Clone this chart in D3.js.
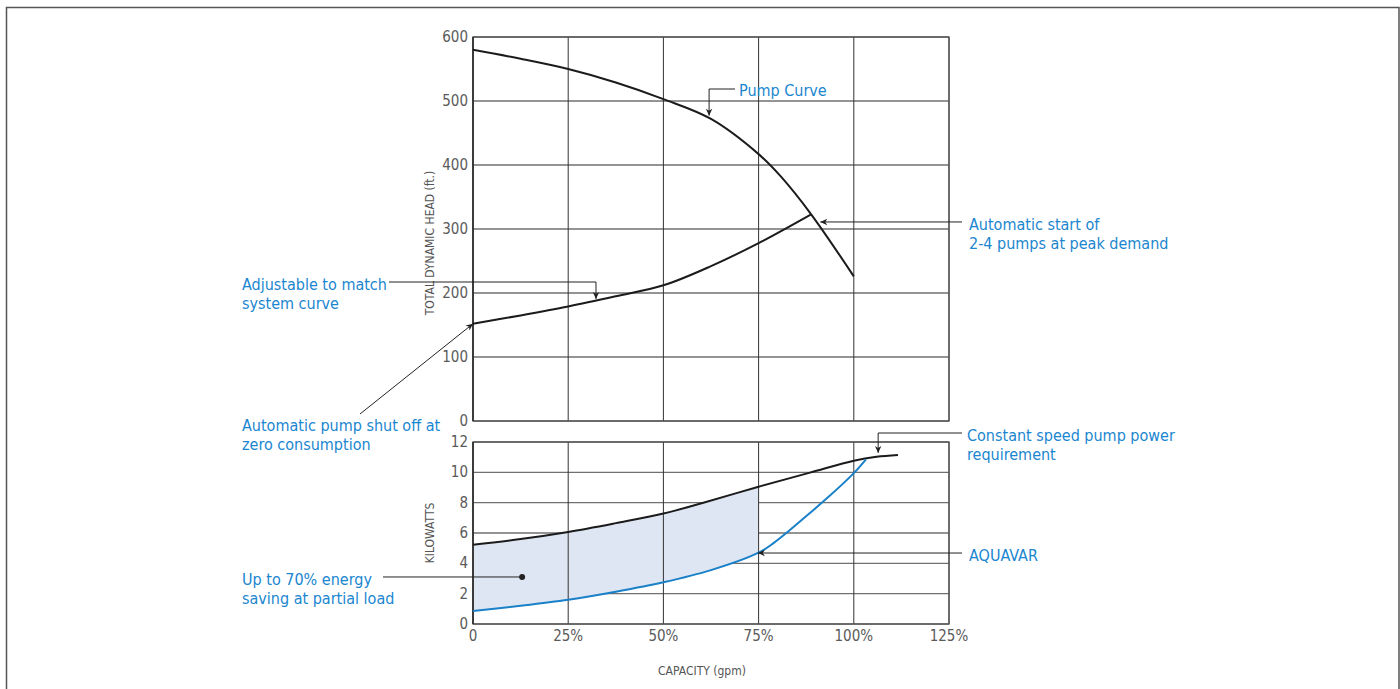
<!DOCTYPE html>
<html>
<meta charset="utf-8">
<title>Pump Curve / AQUAVAR</title>
<style>
  body { margin: 0; background: #fff; }
  svg { display: block; }
  .tick-label { font-family: "Liberation Sans Narrow", "DejaVu Sans Condensed", "DejaVu Sans", sans-serif; font-stretch: condensed; font-size: 15px; fill: #5a5a5a; }
  .axis-title { font-family: "Liberation Sans Narrow", "DejaVu Sans Condensed", "DejaVu Sans", sans-serif; font-stretch: condensed; font-size: 12px; fill: #555; }
  .note { font-family: "Liberation Sans Narrow", "DejaVu Sans Condensed", "DejaVu Sans", sans-serif; font-stretch: condensed; font-size: 16px; fill: #1a86cf; }
  .hgrid { stroke: #707070; stroke-width: 1.4; }
  .vgrid { stroke: #333; stroke-width: 1; }
  .frame { fill: none; stroke: #555; stroke-width: 1.3; }
  .leader { fill: none; stroke: #222; stroke-width: 1; }
</style>
<body>
<script src="https://d3js.org/d3.v7.min.js"></script>
<script>
// ---- data ----
var capTicks = [0, 25, 50, 75, 100, 125];
var capLabels = ["0", "25%", "50%", "75%", "100%", "125%"];
var headTicks = [0, 100, 200, 300, 400, 500, 600];
var kwTicks = [0, 2, 4, 6, 8, 10, 12];

// pump curve (capacity %, head ft)
var pumpCap  = [0, 12.5, 25, 37.5, 50, 62.5, 75, 81, 88.8, 100];
var pumpHead = [580, 566, 550, 529, 503, 472, 417, 381, 323, 226];

// system curve
var sysCap  = [0, 12.5, 25, 37.5, 50, 62.5, 75, 88.8];
var sysHead = [152, 165, 179, 195, 212, 242, 278, 323];

// constant speed pump power (kW)
var constCap = [0, 12.5, 25, 37.5, 50, 60.5, 75, 88.5, 100, 106, 111.6];
var constKw  = [5.23, 5.6, 6.07, 6.65, 7.28, 8.0, 9.05, 9.98, 10.77, 11.03, 11.15];

// AQUAVAR power (kW)
var aquaCap = [0, 12.5, 25, 37.5, 50, 62.5, 75, 79, 83, 87, 93, 100, 103.2];
var aquaKw  = [0.86, 1.2, 1.6, 2.13, 2.75, 3.55, 4.7, 5.35, 6.15, 7.0, 8.3, 9.95, 10.86];

// ---- layout ----
var W = 1400, H = 689;
var svg = d3.select("body").append("svg").attr("width", W).attr("height", H);

var x = d3.scaleLinear().domain([0, 125]).range([473, 949]);
var yHead = d3.scaleLinear().domain([0, 600]).range([421, 37]);
var yKw = d3.scaleLinear().domain([0, 12]).range([624, 442]);

// outer border
svg.append("path").attr("d", "M6.5,700 L6.5,7.5 L1399,7.5 L1399,700")
   .attr("fill", "none").attr("stroke", "#555").attr("stroke-width", 1.5);

svg.append("defs").append("marker")
    .attr("id", "arr")
    .attr("viewBox", "-8 -4 9 8")
    .attr("refX", 0).attr("refY", 0)
    .attr("markerWidth", 9).attr("markerHeight", 8)
    .attr("markerUnits", "userSpaceOnUse")
    .attr("orient", "auto")
  .append("path").attr("d", "M0,0 L-7,-3.2 L-5,0 L-7,3.2 Z").attr("fill", "#222");

svg.select("defs").append("clipPath").attr("id", "clip75")
  .append("rect").attr("x", x(0)).attr("y", yKw(12)).attr("width", x(75) - x(0)).attr("height", yKw(0) - yKw(12));

var curve = d3.curveCatmullRom.alpha(0.5);
function pts(xs, ys) { return xs.map(function(d, i) { return [d, ys[i]]; }); }

// ---- top panel ----
var gTop = svg.append("g");
gTop.selectAll(".hgrid").data(headTicks).enter().append("line")
    .attr("class", "hgrid")
    .attr("x1", x(0)).attr("x2", x(125))
    .attr("y1", function(d) { return yHead(d); }).attr("y2", function(d) { return yHead(d); });
gTop.selectAll(".vgrid").data(capTicks).enter().append("line")
    .attr("class", "vgrid")
    .attr("y1", yHead(0)).attr("y2", yHead(600))
    .attr("x1", function(d) { return x(d); }).attr("x2", function(d) { return x(d); });
gTop.append("rect").attr("class", "frame")
    .attr("x", x(0)).attr("y", yHead(600)).attr("width", x(125) - x(0)).attr("height", yHead(0) - yHead(600));
gTop.append("line").attr("x1", x(0)).attr("x2", x(0)).attr("y1", yHead(0)).attr("y2", yHead(600))
    .attr("stroke", "#222").attr("stroke-width", 1.3);

gTop.selectAll(".ty").data(headTicks).enter().append("text")
    .attr("class", "tick-label")
    .attr("x", 468).attr("y", function(d) { return yHead(d) + 5; })
    .attr("text-anchor", "end")
    .text(function(d) { return d; });

var lineHead = d3.line().x(function(d) { return x(d[0]); }).y(function(d) { return yHead(d[1]); }).curve(curve);
gTop.append("path").attr("d", lineHead(pts(pumpCap, pumpHead)))
    .attr("fill", "none").attr("stroke", "#1b1b1b").attr("stroke-width", 2);
gTop.append("path").attr("d", lineHead(pts(sysCap, sysHead)))
    .attr("fill", "none").attr("stroke", "#1b1b1b").attr("stroke-width", 2);

gTop.append("text").attr("class", "axis-title")
    .attr("transform", "translate(434," + ((yHead(0) + yHead(600)) / 2 + 14) + ") rotate(-90)")
    .attr("text-anchor", "middle")
    .text("TOTAL DYNAMIC HEAD (ft.)");

// ---- bottom panel ----
var gBot = svg.append("g");
gBot.selectAll(".hgrid").data(kwTicks).enter().append("line")
    .attr("class", "hgrid")
    .attr("x1", x(0)).attr("x2", x(125))
    .attr("y1", function(d) { return yKw(d); }).attr("y2", function(d) { return yKw(d); });

var lineKw = d3.line().x(function(d) { return x(d[0]); }).y(function(d) { return yKw(d[1]); }).curve(curve);
var upper = lineKw(pts(constCap, constKw));
var lower = lineKw(pts(aquaCap, aquaKw).reverse());
gBot.append("path")
    .attr("d", upper + "L" + lower.slice(1) + "Z")
    .attr("clip-path", "url(#clip75)")
    .attr("fill", "#dfe6f3");

gBot.selectAll(".vgrid").data(capTicks).enter().append("line")
    .attr("class", "vgrid")
    .attr("y1", yKw(0)).attr("y2", yKw(12))
    .attr("x1", function(d) { return x(d); }).attr("x2", function(d) { return x(d); });
gBot.append("rect").attr("class", "frame")
    .attr("x", x(0)).attr("y", yKw(12)).attr("width", x(125) - x(0)).attr("height", yKw(0) - yKw(12));
gBot.append("line").attr("x1", x(0)).attr("x2", x(0)).attr("y1", yKw(0)).attr("y2", yKw(12))
    .attr("stroke", "#222").attr("stroke-width", 1.3);

gBot.append("path").attr("d", upper)
    .attr("fill", "none").attr("stroke", "#1b1b1b").attr("stroke-width", 2);
gBot.append("path").attr("d", lineKw(pts(aquaCap, aquaKw)))
    .attr("fill", "none").attr("stroke", "#1a80c8").attr("stroke-width", 2);

gBot.selectAll(".ty").data(kwTicks).enter().append("text")
    .attr("class", "tick-label")
    .attr("x", 468).attr("y", function(d) { return yKw(d) + 5; })
    .attr("text-anchor", "end")
    .text(function(d) { return d; });
gBot.selectAll(".tx").data(capTicks).enter().append("text")
    .attr("class", "tick-label")
    .attr("x", function(d) { return x(d); }).attr("y", 641)
    .attr("text-anchor", "middle")
    .text(function(d, i) { return capLabels[i]; });

gBot.append("text").attr("class", "axis-title")
    .attr("transform", "translate(434,533) rotate(-90)")
    .attr("text-anchor", "middle")
    .text("KILOWATTS");
gBot.append("text").attr("class", "axis-title")
    .attr("x", 702).attr("y", 675)
    .attr("text-anchor", "middle")
    .text("CAPACITY (gpm)");

// ---- annotations ----
function note(lines, tx, ty) {
  var t = svg.append("text").attr("class", "note").attr("x", tx).attr("y", ty);
  lines.forEach(function(s, i) {
    t.append("tspan").attr("x", tx).attr("dy", i ? 18.5 : 0).text(s);
  });
}
function leader(p, arrow) {
  svg.append("path").attr("class", "leader")
     .attr("d", d3.line()(p))
     .attr("marker-end", arrow ? "url(#arr)" : null);
}

// Pump Curve
var tip = [x(62), yHead(474) - 2];
leader([[735, 89], [tip[0], 89], tip], true);
note(["Pump Curve"], 739, 96);

// Automatic start
tip = [x(91.2), yHead(311)];
leader([[962, tip[1]], [tip[0], tip[1]]], true);
note(["Automatic start of", "2-4 pumps at peak demand"], 969, 230);

// Adjustable
tip = [x(32.3), yHead(189) - 1];
leader([[389, 282], [tip[0], 282], tip], true);
note(["Adjustable to match", "system curve"], 242, 290);

// Shut off
tip = [x(0), yHead(152)];
leader([[360, 414], tip], true);
note(["Automatic pump shut off at", "zero consumption"], 242, 431);

// Constant speed
tip = [x(106.4), yKw(11.15) - 2];
leader([[962, 433], [tip[0], 433], tip], true);
note(["Constant speed pump power", "requirement"], 967, 441);

// AQUAVAR
tip = [x(74.8), yKw(4.68)];
leader([[962, tip[1]], [tip[0], tip[1]]], true);
note(["AQUAVAR"], 969, 561);

// energy saving
var dot = [x(12.9), yKw(3.1)];
leader([[383, dot[1]], dot], false);
svg.append("circle").attr("cx", dot[0]).attr("cy", dot[1]).attr("r", 3).attr("fill", "#222");
note(["Up to 70% energy", "saving at partial load"], 242, 585);
</script>
</body>
</html>
